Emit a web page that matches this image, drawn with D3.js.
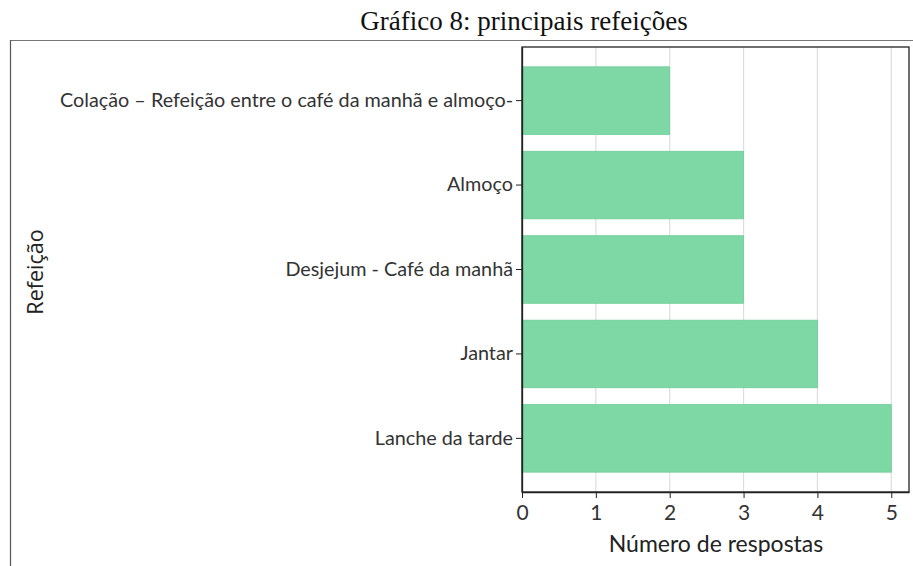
<!DOCTYPE html>
<html>
<head>
<meta charset="utf-8">
<script src="https://cdn.jsdelivr.net/npm/d3@7"></script>
<style>
    body { margin: 0; background: #fff; }
    svg { display: block; }
</style>
</head>
<body>
<svg width="913" height="566"></svg>
<script>
    var meals = ["Colação – Refeição entre o café da manhã e almoço-", "Almoço", "Desjejum - Café da manhã", "Jantar", "Lanche da tarde"];
    var answers = [2, 3, 3, 4, 5];
    var xTicks = [0, 1, 2, 3, 4, 5];

    var svg = d3.select("svg"),
        margin = {top: 47, right: 4, bottom: 74, left: 522},
        width = +svg.attr("width") - margin.left - margin.right,
        height = +svg.attr("height") - margin.top - margin.bottom;

    // frame around the figure
    svg.append("line").attr("x1", 10).attr("x2", 913).attr("y1", 40.5).attr("y2", 40.5)
        .attr("stroke", "#777").attr("stroke-width", 1.2);
    svg.append("line").attr("x1", 10.5).attr("x2", 10.5).attr("y1", 40).attr("y2", 566)
        .attr("stroke", "#555").attr("stroke-width", 1.2);

    svg.append("text")
        .attr("x", 524).attr("y", 30)
        .attr("text-anchor", "middle")
        .attr("font-family", "'Liberation Serif', 'Times New Roman', serif")
        .attr("font-size", "27px")
        .attr("fill", "#111")
        .text("Gráfico 8: principais refeições");

    var g = svg.append("g").attr("transform", "translate(" + margin.left + "," + margin.top + ")");

    var x = d3.scaleLinear().domain([0, 5.24]).range([0, width]);
    var y = d3.scaleBand().domain(meals).range([0, height]).paddingInner(0.2).paddingOuter(0.235);

    // grid
    g.selectAll(".grid").data(xTicks).enter().append("line")
        .attr("x1", function (d) { return x(d); })
        .attr("x2", function (d) { return x(d); })
        .attr("y1", 0).attr("y2", height)
        .attr("stroke", "#dedede").attr("stroke-width", 1.2);

    g.selectAll(".bar").data(answers).enter().append("rect")
        .attr("x", 0)
        .attr("y", function (d, i) { return y(meals[i]); })
        .attr("width", function (d) { return x(d); })
        .attr("height", y.bandwidth())
        .attr("fill", "#7dd8a5")
        .attr("stroke", "#6ccc96")
        .attr("stroke-width", 0.8);

    // plot box
    g.append("rect").attr("x", 0).attr("y", 0).attr("width", width).attr("height", height)
        .attr("fill", "none").attr("stroke", "#222").attr("stroke-width", 1.3);

    var xAxis = g.append("g")
        .attr("transform", "translate(0," + height + ")")
        .call(d3.axisBottom(x).tickValues(xTicks).tickFormat(d3.format("d")).tickSize(6).tickSizeOuter(0));
    xAxis.select(".domain").attr("stroke", "#222").attr("stroke-width", 1.3);
    xAxis.selectAll(".tick line").attr("stroke", "#222");
    xAxis.selectAll("text")
        .attr("font-family", "Lato, sans-serif").attr("font-size", "21px")
        .attr("fill", "#333").attr("dy", "0.9em");

    var yAxis = g.append("g")
        .call(d3.axisLeft(y).tickSize(6).tickSizeOuter(0));
    yAxis.select(".domain").attr("stroke", "#222").attr("stroke-width", 1.3);
    yAxis.selectAll(".tick line").attr("stroke", "#222");
    yAxis.selectAll("text")
        .attr("font-family", "Lato, sans-serif").attr("font-size", "19.8px")
        .attr("fill", "#333").attr("x", -9);

    g.append("text")
        .attr("x", 716 - margin.left).attr("y", height + 60)
        .attr("text-anchor", "middle")
        .attr("font-family", "Lato, sans-serif").attr("font-size", "23px")
        .attr("fill", "#222")
        .text("Número de respostas");

    svg.append("text")
        .attr("transform", "translate(43,272) rotate(-90)")
        .attr("text-anchor", "middle")
        .attr("font-family", "'Open Sans', sans-serif").attr("font-size", "21.5px")
        .attr("fill", "#222")
        .text("Refeição");
</script>
</body>
</html>
